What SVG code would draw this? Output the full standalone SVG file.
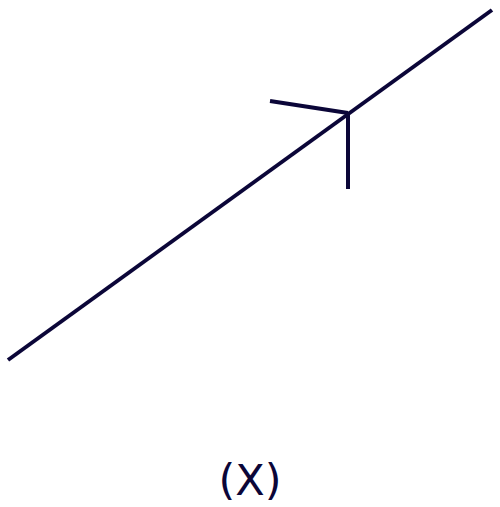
<svg xmlns="http://www.w3.org/2000/svg" width="500" height="507" viewBox="0 0 500 507">
<style>
.ln{stroke:#0b0638;stroke-width:4;fill:none;stroke-linecap:butt}
.lbl{font-family:"DejaVu Sans",sans-serif;font-size:43px;fill:#0b0638;text-anchor:middle}
</style>
<rect width="500" height="507" fill="#ffffff"/>
<g id="connectors">
<line class="ln" x1="8" y1="360" x2="492" y2="10"/>
<line class="ln" x1="348" y1="113" x2="270" y2="101"/>
<line class="ln" x1="348" y1="113" x2="348" y2="189"/>
</g>
<g id="label">
<text class="lbl" x="250" y="495">(X)</text>
</g>
</svg>
